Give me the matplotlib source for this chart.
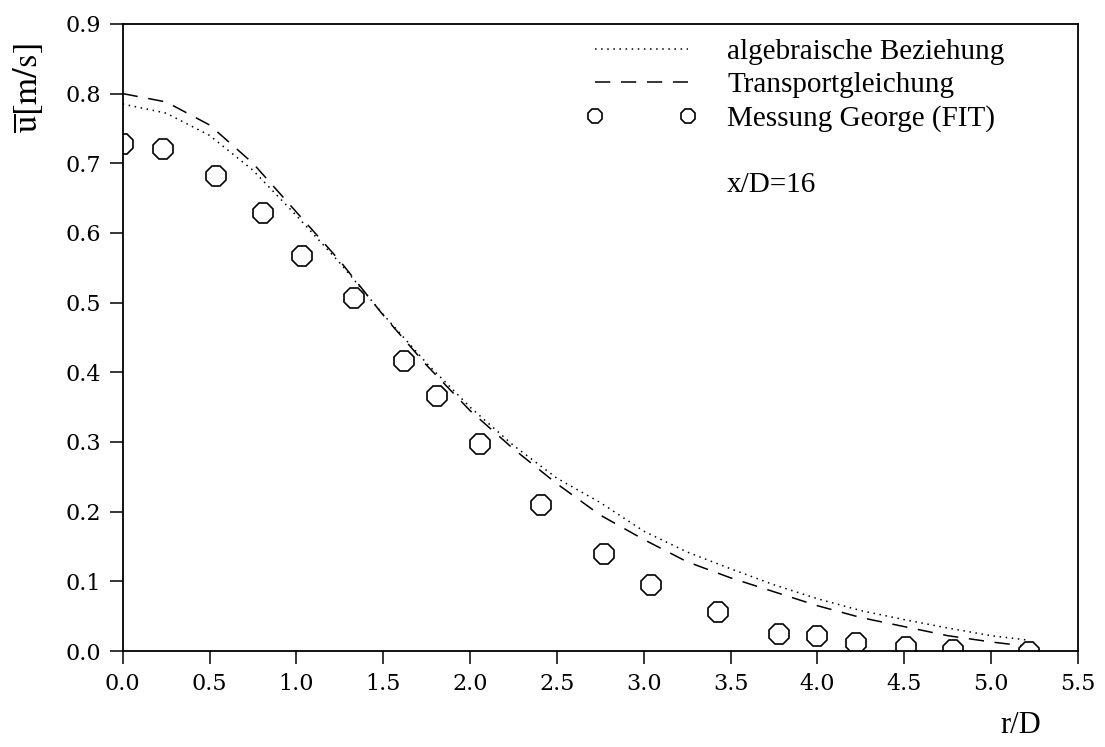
import matplotlib
matplotlib.use("Agg")
import matplotlib.pyplot as plt

# ---- data ----
r_model = [0.0, 0.25, 0.5, 0.75, 1.0, 1.25, 1.5, 1.75, 2.0, 2.25, 2.5, 2.75,
           3.0, 3.25, 3.5, 3.75, 4.0, 4.25, 4.5, 4.75, 5.0, 5.2]
u_transport = [0.800, 0.788, 0.755, 0.700, 0.630, 0.560, 0.482, 0.410, 0.345,
               0.290, 0.240, 0.195, 0.160, 0.128, 0.105, 0.085, 0.065, 0.048,
               0.035, 0.022, 0.013, 0.007]
u_algebraic = [0.785, 0.772, 0.740, 0.690, 0.625, 0.557, 0.483, 0.413, 0.350,
               0.295, 0.248, 0.213, 0.172, 0.142, 0.118, 0.095, 0.075, 0.058,
               0.045, 0.033, 0.022, 0.016]
r_meas = [0.0, 0.23, 0.54, 0.81, 1.03, 1.33, 1.62, 1.81, 2.06, 2.41, 2.77,
          3.04, 3.43, 3.78, 4.00, 4.22, 4.51, 4.78, 5.22]
u_meas = [0.727, 0.720, 0.681, 0.628, 0.567, 0.506, 0.416, 0.366, 0.297,
          0.209, 0.139, 0.095, 0.056, 0.024, 0.022, 0.011, 0.006, 0.001, -0.001]

x_ticks = [0.0, 0.5, 1.0, 1.5, 2.0, 2.5, 3.0, 3.5, 4.0, 4.5, 5.0, 5.5]
y_ticks = [0.0, 0.1, 0.2, 0.3, 0.4, 0.5, 0.6, 0.7, 0.8, 0.9]

labels = ["algebraische Beziehung", "Transportgleichung", "Messung George (FIT)"]
annot = "x/D=16"

plt.rcParams['mathtext.fontset'] = 'stix'
serif = 'Liberation Serif'

fig = plt.figure(figsize=(11.05, 7.47), dpi=100)
ax = fig.add_axes([0.111, 0.1285, 0.8646, 0.8395])

ax.plot(r_model, u_algebraic, color='black', lw=1.1,
        linestyle=(0, (1, 3)), label=labels[0])
ax.plot(r_model, u_transport, color='black', lw=1.1,
        linestyle=(0, (10, 7)), label=labels[1])
ax.plot(r_meas, u_meas, linestyle='none', marker='8', markersize=15,
        markerfacecolor='white', markeredgecolor='black', markeredgewidth=1.2,
        label=labels[2])

ax.set_xlim(0, 5.5)
ax.set_ylim(0, 0.9)
ax.set_xticks(x_ticks)
ax.set_yticks(y_ticks)
ax.set_xticklabels([f"{v:.1f}" for v in x_ticks], family='DejaVu Serif', fontsize=16)
ax.set_yticklabels([f"{v:.1f}" for v in y_ticks], family='DejaVu Serif', fontsize=16)
ax.tick_params(direction='out', length=9.5, width=1.1, pad=6)
for s in ax.spines.values():
    s.set_linewidth(1.3)

ax.set_ylabel(r'$\overline{\mathrm{u}}\mathrm{[m/s]}$', fontsize=25)
ax.yaxis.set_label_coords(-0.08, 0.898)
fig.text(0.905, 0.01, "r/D", family=serif, fontsize=22, ha='left', va='bottom')

leg = ax.legend(loc='upper left', bbox_to_anchor=(0.485, 0.977), frameon=False,
                prop={'family': serif, 'size': 21}, numpoints=2, markerscale=0.7,
                handlelength=3.78, handletextpad=1.06, labelspacing=0.24,
                borderpad=0, borderaxespad=0)

ax.text(0.6326, 0.743, annot, transform=ax.transAxes, family=serif,
        fontsize=21, ha='left', va='center')

fig.savefig("out.png", dpi=100)
